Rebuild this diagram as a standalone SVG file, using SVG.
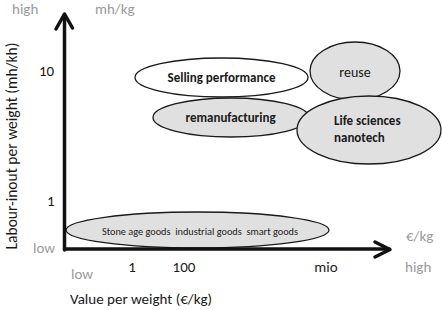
<svg xmlns="http://www.w3.org/2000/svg" width="442" height="310" viewBox="0 0 442 310">
<style>
text{font-family:Carlito,Lato,"Liberation Sans",sans-serif;}
.g{fill:#9a9a9a;font-size:15px;}
.k{fill:#1a1a1a;font-size:15px;}
.b{fill:#1a1a1a;font-size:13px;font-weight:bold;}
.e{stroke:#1a1a1a;stroke-width:1.3;}
.gray{fill:#e0e0e0;}
.white{fill:#ffffff;}
.ax{fill:none;stroke:#111;stroke-width:3.5;stroke-linecap:round;stroke-linejoin:round;}
</style>
<rect width="442" height="310" fill="#ffffff"/>
<g id="axis-labels">
<text class="g" x="12" y="14">high</text>
<text class="g" x="95" y="14">mh/kg</text>
<text class="k" x="39" y="76">10</text>
<text class="k" x="47" y="206">1</text>
<text class="g" x="33" y="253">low</text>
<text class="k" transform="translate(17,146) rotate(-90)" text-anchor="middle" style="font-size:15.5px">Labour-inout per weight (mh/kh)</text>
<text class="g" x="71" y="279">low</text>
<text class="k" x="132" y="272" text-anchor="middle">1</text>
<text class="k" x="184" y="272" text-anchor="middle">100</text>
<text class="k" x="326" y="272" text-anchor="middle">mio</text>
<text class="g" x="405" y="272">high</text>
<text class="g" x="406" y="241">€/kg</text>
<text class="k" x="70" y="304">Value per weight (€/kg)</text>
</g>
<g id="node-goods">
<ellipse class="e gray" cx="197.5" cy="230" rx="131.5" ry="18"/>
<text x="200" y="235" text-anchor="middle" style="fill:#222;font-size:10.3px;white-space:pre" xml:space="preserve">Stone age goods  industrial goods  smart goods</text>
</g>
<g id="connectors">
<path class="ax" d="M64.5,250 V15"/>
<path class="ax" d="M56,29 L64.5,14 L72.5,28"/>
<path class="ax" d="M64.5,249 H389"/>
<path class="ax" d="M375,242 L390,249.5 L375,257"/>
</g>
<g id="node-selling">
<ellipse class="e white" cx="221.5" cy="77.5" rx="86.5" ry="19.5"/>
<text class="b" x="221.5" y="81.5" text-anchor="middle">Selling performance</text>
</g>
<g id="node-reman">
<ellipse class="e gray" cx="231" cy="117.5" rx="78" ry="19.5"/>
<text class="b" x="230.5" y="121.5" text-anchor="middle">remanufacturing</text>
</g>
<g id="node-reuse">
<ellipse class="e gray" cx="355" cy="71" rx="45" ry="29"/>
<text x="355" y="77" text-anchor="middle" style="fill:#1a1a1a;font-size:14px">reuse</text>
</g>
<g id="node-life">
<ellipse class="e gray" cx="369" cy="130" rx="72" ry="34"/>
<text class="b" x="334" y="125">Life sciences</text>
<text class="b" x="334" y="142">nanotech</text>
</g>
</svg>
